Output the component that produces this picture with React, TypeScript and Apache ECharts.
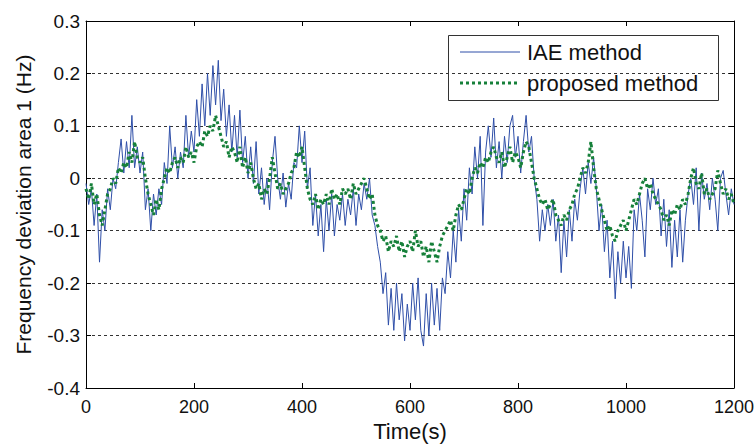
import React, { useEffect, useRef } from "react";
import * as echarts from "echarts";

// sampling step of the recorded signals (seconds)
const timeStep = 5;

// IAE method, frequency deviation area 1 (Hz), one value every 5 s from 0 to 1200 s
const iaeMethod = [
  -0.01, -0.05, -0.02, -0.09, -0.03, -0.16, -0.06, -0.1, -0.02, -0.06, 0.0, -0.02, 0.03, 0.075, 0.01, 0.07, 0.02, 0.12, 0.02, 0.06,
  0.01, 0.05, -0.06, -0.02, -0.1, -0.03, -0.07, -0.02, -0.05, 0.03, -0.01, 0.1, 0.02, 0.06, 0.0, 0.05, 0.02, 0.12, 0.04, 0.09,
  0.05, 0.15, 0.08, 0.18, 0.1, 0.2, 0.12, 0.215, 0.14, 0.225, 0.11, 0.17, 0.08, 0.14, 0.05, 0.12, 0.04, 0.13, 0.03, 0.08,
  0.0, 0.06, -0.01, 0.07, -0.03, 0.02, -0.05, 0.0, -0.06, 0.03, 0.08, 0.0, -0.04, 0.01, -0.055, -0.01, -0.04, 0.03, 0.02, 0.1,
  0.03, 0.09, -0.02, 0.02, -0.09, -0.03, -0.11, -0.05, -0.14, -0.04, -0.1, -0.03, -0.11, -0.05, -0.08, -0.03, -0.09, -0.04, -0.07, -0.02,
  -0.09, -0.03, -0.06, -0.01, -0.04, 0.0, -0.07, -0.09, -0.13, -0.16, -0.22, -0.18, -0.28, -0.21, -0.29, -0.2, -0.27, -0.22, -0.31, -0.24,
  -0.29, -0.2, -0.27, -0.19, -0.29, -0.32, -0.22, -0.3, -0.2, -0.28, -0.21, -0.29, -0.19, -0.22, -0.14, -0.19, -0.1, -0.16, -0.06, -0.12,
  -0.02, -0.08, 0.02, -0.03, 0.06, 0.0, 0.08, -0.09, 0.05, 0.1, 0.04, 0.115, 0.02, 0.07, 0.0, 0.08, 0.03, 0.1, 0.12, 0.04,
  0.08, 0.01, 0.07, 0.12, 0.05, 0.08, 0.0, -0.04, -0.12, -0.06, -0.1, -0.05, -0.09, -0.04, -0.12, -0.07, -0.18, -0.08, -0.15, -0.06,
  -0.12, -0.04, -0.08, -0.02, 0.02, -0.03, 0.03, -0.01, 0.04, -0.02, -0.1, -0.05, -0.14, -0.08, -0.19, -0.12, -0.23, -0.14, -0.2, -0.12,
  -0.19, -0.13, -0.21, -0.06, -0.1, -0.03, -0.08, -0.15, -0.02, -0.06, 0.0, -0.05, -0.02, -0.11, -0.04, -0.13, -0.06, -0.17, -0.08, -0.15,
  -0.06, -0.16, -0.08, -0.03, 0.0, -0.05, 0.02, -0.1, 0.01, -0.04, -0.01, -0.06, 0.0, -0.04, -0.1, 0.0, 0.015, -0.03, -0.07, -0.02, -0.05,
];

// proposed method, same sampling
const proposedMethod = [
  -0.02, -0.04, -0.01, -0.05, -0.03, -0.07, -0.09, -0.06, -0.03, -0.02, 0.0, -0.01, 0.02, 0.01, 0.03, 0.02, 0.05, 0.03, 0.07, 0.04,
  0.03, 0.04, 0.0, -0.03, -0.05, -0.07, -0.04, -0.06, -0.02, 0.0, 0.02, 0.01, 0.03, 0.04, 0.02, 0.04, 0.03, 0.06, 0.04, 0.05,
  0.03, 0.06, 0.07, 0.06, 0.09, 0.08, 0.1, 0.09, 0.12, 0.1, 0.08, 0.06, 0.07, 0.04, 0.06, 0.05, 0.03, 0.06, 0.02, 0.04,
  0.01, 0.03, 0.0, -0.02, -0.01, -0.04, -0.02, -0.03, 0.0, 0.04, 0.01, -0.02, -0.01, -0.03, -0.02, -0.01, 0.01, 0.02, 0.05, 0.04,
  0.06, 0.02, -0.02, -0.04, -0.05, -0.03, -0.06, -0.04, -0.05, -0.03, -0.05, -0.02, -0.04, -0.03, -0.05, -0.02, -0.03, -0.02, -0.04, -0.01,
  -0.03, -0.02, -0.01, 0.0, -0.02, -0.04, -0.03, -0.07, -0.09, -0.1, -0.12, -0.11, -0.14, -0.12, -0.13, -0.11, -0.14, -0.12, -0.15, -0.13,
  -0.12, -0.14, -0.1, -0.13, -0.12, -0.15, -0.13, -0.16, -0.12, -0.14, -0.16, -0.13, -0.11, -0.1, -0.09, -0.08, -0.1, -0.07, -0.05, -0.06,
  -0.04, -0.02, -0.03, 0.0, 0.02, 0.01, 0.03, 0.02, 0.04, 0.03, 0.05, 0.06, 0.04, 0.03, 0.05, 0.02, 0.04, 0.06, 0.03, 0.05,
  0.04, 0.02, 0.05, 0.07, 0.06, 0.03, 0.0, -0.02, -0.04, -0.05, -0.04, -0.06, -0.05, -0.04, -0.07, -0.08, -0.09, -0.07, -0.08, -0.06,
  -0.05, -0.03, -0.02, 0.0, 0.02, 0.01, 0.03, 0.07, 0.02, -0.02, -0.04, -0.06, -0.08, -0.1, -0.09, -0.11, -0.12, -0.1, -0.09, -0.08,
  -0.1, -0.08, -0.06, -0.04, -0.05, -0.03, -0.01, 0.0, -0.02, -0.01, -0.03, -0.04, -0.05, -0.06, -0.08, -0.07, -0.09, -0.06, -0.07, -0.05,
  -0.06, -0.04, -0.05, -0.03, 0.0, 0.02, -0.01, -0.02, 0.01, -0.03, -0.02, -0.04, -0.03, -0.02, 0.015, -0.01, -0.03, -0.02, -0.04, -0.03, -0.05,
];

const seriesNames = ["IAE method", "proposed method"];
const xAxisTitle = "Time(s)";
const yAxisTitle = "Frequency deviation area 1 (Hz)";

const BLUE = "#2f4fa8";
const GREEN = "#16803a";
const FONT = "'Liberation Sans', Arial, Helvetica, sans-serif";

export default function App() {
  const ref = useRef<HTMLDivElement>(null);

  useEffect(() => {
    if (!ref.current) return;
    const chart = echarts.init(ref.current, null, { renderer: "svg" });
    const toPairs = (arr: number[]) => arr.map((v, i) => [i * timeStep, v]);

    const axisLine = { show: true, onZero: false, lineStyle: { color: "#000", width: 1 } };
    const tick = { show: true, inside: true, length: 5, lineStyle: { color: "#000" } };

    chart.setOption({
      animation: false,
      backgroundColor: "#fff",
      grid: {
        left: 86,
        right: 20,
        top: 21,
        bottom: 56,
        containLabel: false,
        outerBoundsMode: "none",
      },
      xAxis: [
        {
          type: "value",
          min: 0,
          max: 1200,
          interval: 200,
          position: "bottom",
          axisLine,
          axisTick: tick,
          splitLine: { show: false },
          axisLabel: {
            color: "#111",
            fontSize: 18,
            fontFamily: FONT,
            margin: 10,
            formatter: (v: number) => String(Math.round(v)),
          },
          name: xAxisTitle,
          nameLocation: "middle",
          nameGap: 30,
          nameTextStyle: { color: "#111", fontSize: 22, fontFamily: FONT },
        },
        {
          type: "value",
          min: 0,
          max: 1200,
          interval: 200,
          position: "top",
          axisLine,
          axisTick: tick,
          splitLine: { show: false },
          axisLabel: { show: false },
        },
      ],
      yAxis: [
        {
          type: "value",
          min: -0.4,
          max: 0.3,
          interval: 0.1,
          position: "left",
          axisLine,
          axisTick: tick,
          splitLine: { show: true, lineStyle: { color: "#333", width: 1, type: [3, 3] } },
          axisLabel: {
            color: "#111",
            fontSize: 19,
            fontFamily: FONT,
            margin: 6,
            formatter: (v: number) => {
              const r = Math.round(v * 10) / 10;
              return r === 0 ? "0" : String(r);
            },
          },
          name: yAxisTitle,
          nameLocation: "middle",
          nameGap: 52,
          nameTextStyle: { color: "#111", fontSize: 21, fontFamily: FONT },
        },
        {
          type: "value",
          min: -0.4,
          max: 0.3,
          interval: 0.1,
          position: "right",
          axisLine,
          axisTick: tick,
          splitLine: { show: false },
          axisLabel: { show: false },
        },
      ],
      graphic: [
        {
          type: "group",
          z: 100,
          children: [
            {
              type: "rect",
              shape: { x: 448.5, y: 35.5, width: 270, height: 65 },
              style: { fill: "#fff", stroke: "#333", lineWidth: 1 },
            },
            {
              type: "line",
              shape: { x1: 460, y1: 52, x2: 520, y2: 52 },
              style: { stroke: BLUE, lineWidth: 1 },
            },
            {
              type: "text",
              x: 527,
              y: 52,
              style: {
                text: seriesNames[0],
                fill: "#111",
                fontSize: 22,
                fontFamily: FONT,
                verticalAlign: "middle",
                align: "left",
              },
            },
            {
              type: "line",
              shape: { x1: 460, y1: 83, x2: 520, y2: 83 },
              style: { stroke: GREEN, lineWidth: 3, lineDash: [3, 3] },
            },
            {
              type: "text",
              x: 527,
              y: 83,
              style: {
                text: seriesNames[1],
                fill: "#111",
                fontSize: 22,
                fontFamily: FONT,
                verticalAlign: "middle",
                align: "left",
              },
            },
          ],
        },
      ],
      series: [
        {
          name: seriesNames[0],
          type: "line",
          data: toPairs(iaeMethod),
          symbol: "none",
          lineStyle: { color: BLUE, width: 1 },
          itemStyle: { color: BLUE },
          z: 2,
        },
        {
          name: seriesNames[1],
          type: "line",
          data: toPairs(proposedMethod),
          symbol: "none",
          lineStyle: { color: GREEN, width: 3, type: [3, 3] },
          itemStyle: { color: GREEN },
          z: 3,
        },
      ],
    });
    return () => chart.dispose();
  }, []);

  return <div ref={ref} style={{ width: 754, height: 444, position: "absolute", left: 0, top: 0 }} />;
}
